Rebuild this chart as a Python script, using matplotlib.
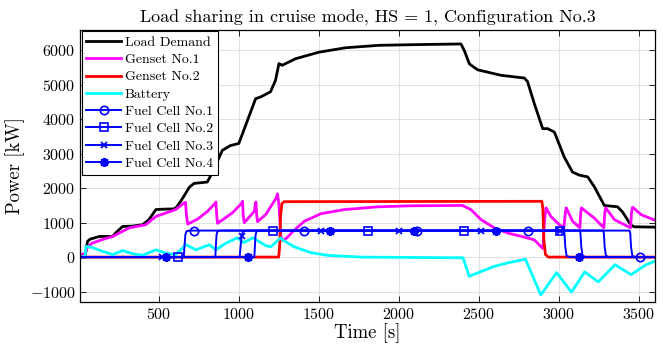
import matplotlib
matplotlib.use("Agg")
import matplotlib.pyplot as plt
from matplotlib.lines import Line2D

plt.rcParams["font.family"] = "serif"
plt.rcParams["font.serif"] = ["cmr10", "DejaVu Serif"]
plt.rcParams["mathtext.fontset"] = "cm"
plt.rcParams["axes.formatter.use_mathtext"] = True
plt.rcParams["axes.unicode_minus"] = False

# --- data (time [s], power [kW]) ---
load_t = [8, 36, 44, 54, 70, 128, 211, 229, 273, 333, 398, 436, 481, 520, 594, 612,
          648, 690, 719, 802, 833, 896, 947, 999, 1042, 1104, 1135, 1197, 1228, 1250,
          1270, 1353, 1499, 1667, 1874, 2100, 2387, 2408, 2440, 2491, 2637, 2783, 2803,
          2846, 2898, 2929, 2971, 3033, 3084, 3127, 3179, 3221, 3283, 3366, 3397, 3449,
          3471, 3600]
load_p = [0, 0, 170, 460, 520, 600, 600, 700, 890, 900, 940, 1080, 1380, 1390, 1400, 1460,
          1710, 2030, 2140, 2180, 2450, 3100, 3240, 3300, 3830, 4600, 4650, 4800, 5130, 5620,
          5570, 5760, 5950, 6080, 6150, 6170, 6190, 6000, 5610, 5440, 5280, 5200, 5100,
          4450, 3730, 3730, 3630, 2900, 2470, 2380, 2330, 2040, 1500, 1460, 1310, 930,
          880, 870]

gen1_t = [8, 40, 48, 80, 146, 211, 315, 417, 481, 604, 656, 666, 672, 680, 740, 804,
          850, 856, 861, 866, 960, 1016, 1022, 1027, 1033, 1096, 1103, 1106, 1111, 1116,
          1168, 1230, 1241, 1250, 1262, 1272, 1300, 1335, 1408, 1512, 1658, 1867, 2075, 2397,
          2449, 2512, 2595, 2679, 2783, 2846, 2888, 2900, 2910, 2919, 2950, 3000, 3030,
          3040, 3045, 3085, 3130, 3136, 3140, 3221, 3280, 3286, 3292, 3346, 3447, 3453,
          3460, 3513, 3600]
gen1_p = [60, 110, 250, 400, 510, 600, 850, 940, 1180, 1380, 1570, 1590, 1200, 960, 1100, 1330,
          1560, 1600, 1200, 980, 1290, 1560, 1620, 1200, 1000, 1330, 1560, 1600, 1200, 1030,
          1240, 1700, 1840, 1500, 600, 480, 560, 735, 1040, 1260, 1380, 1460, 1490, 1500,
          1380, 1090, 850, 700, 580, 500, 300, 250, 1100, 1430, 1175, 950, 850,
          1300, 1430, 1040, 850, 1300, 1430, 1130, 850, 1300, 1430, 1088, 850, 1300,
          1450, 1233, 1070]

gen2_t = [8, 1248, 1254, 1260, 1268, 1282, 2893, 2899, 2905, 2915, 2932, 3600]
gen2_p = [0, 0, 300, 1200, 1550, 1610, 1620, 1400, 500, 80, 0, 0]

bat_t = [8, 38, 44, 83, 146, 211, 273, 333, 398, 481, 541, 604, 669, 731, 815, 856,
         917, 990, 1030, 1086, 1168, 1200, 1250, 1260, 1272, 1345, 1449, 1553, 1761, 2387,
         2400, 2439, 2512, 2595, 2679, 2790, 2886, 2985, 3078, 3160, 3245, 3350, 3450, 3545,
         3600]
bat_p = [0, 20, 310, 280, 170, 70, 190, 100, 50, 210, 120, 70, 360, 210, 360, 210,
         400, 560, 420, 560, 330, 300, 520, 560, 500, 300, 130, 50, 0, -20,
         -20, -560, -420, -270, -170, -60, -1100, -450, -1020, -430, -720, -220, -510, -220,
         -120]

fc1_t = [8, 655, 660, 665, 672, 690, 3440, 3445, 3450, 3458, 3475, 3600]
fc1_p = [0, 0, 350, 650, 750, 770, 770, 700, 300, 40, 0, 0]
fc2_t = [8, 852, 856, 860, 866, 885, 3275, 3280, 3285, 3293, 3310, 3600]
fc2_p = [0, 0, 350, 650, 750, 770, 770, 700, 300, 40, 0, 0]
fc3_t = [8, 1004, 1010, 1017, 1025, 1045, 3129, 3134, 3139, 3147, 3165, 3600]
fc3_p = [0, 0, 300, 620, 740, 770, 770, 700, 300, 40, 0, 0]
fc4_t = [8, 1096, 1100, 1104, 1110, 1130, 3029, 3034, 3039, 3047, 3065, 3600]
fc4_p = [0, 0, 350, 650, 750, 770, 770, 700, 300, 40, 0, 0]

# marker positions on the fuel cell curves
fc1_mt = [720, 1408, 2110, 2808, 3506]
fc1_mp = [770, 770, 770, 770, 0]
fc2_mt = [617, 1214, 1808, 2408, 3008]
fc2_mp = [0, 770, 770, 770, 770]
fc3_mt = [521, 1017, 1512, 2002, 2512, 3008]
fc3_mp = [0, 620, 770, 770, 770, 770]
fc4_mt = [546, 1058, 1570, 2096, 2605, 3127]
fc4_mp = [0, 0, 770, 770, 770, 0]

labels = ["Load Demand", "Genset No.1", "Genset No.2", "Battery",
          "Fuel Cell No.1", "Fuel Cell No.2", "Fuel Cell No.3", "Fuel Cell No.4"]

fig = plt.figure(figsize=(6.63, 3.51), dpi=100)
ax = fig.add_axes([0.121, 0.140, 0.867, 0.775])

lw_main = 2.0
ax.plot(load_t, load_p, color="k", lw=lw_main)
ax.plot(gen1_t, gen1_p, color="#ff00ff", lw=lw_main)
ax.plot(gen2_t, gen2_p, color="#ff0000", lw=lw_main)
ax.plot(bat_t, bat_p, color="#00ffff", lw=lw_main)

blue = "#0000ff"
fc_specs = [
    (fc1_t, fc1_p, fc1_mt, fc1_mp, dict(marker="o", ms=6, mfc="none", mew=1.2)),
    (fc2_t, fc2_p, fc2_mt, fc2_mp, dict(marker="s", ms=5.5, mfc="none", mew=1.2)),
    (fc3_t, fc3_p, fc3_mt, fc3_mp, dict(marker="x", ms=4, mew=1.3)),
    (fc4_t, fc4_p, fc4_mt, fc4_mp, dict(marker=(8, 2, 0), ms=6.5, mew=1.5)),
]
for t, p, mt, mp, mk in fc_specs:
    ax.plot(t, p, color=blue, lw=1.4)
    ax.plot(mt, mp, ls="none", color=blue, **mk)

handles = [
    Line2D([], [], color="k", lw=lw_main),
    Line2D([], [], color="#ff00ff", lw=lw_main),
    Line2D([], [], color="#ff0000", lw=lw_main),
    Line2D([], [], color="#00ffff", lw=lw_main),
]
for _, _, _, _, mk in fc_specs:
    handles.append(Line2D([], [], color=blue, lw=1.4, **mk))

leg = ax.legend(handles, labels, loc="upper left", fontsize=10, frameon=True,
                fancybox=False, framealpha=1, edgecolor="k", borderpad=0.35,
                labelspacing=0.33, handlelength=2.5, handletextpad=0.25,
                borderaxespad=0.1)
leg.get_frame().set_linewidth(0.8)

ax.set_xlim(8, 3600)
ax.set_ylim(-1300, 6600)
ax.set_xticks([500, 1000, 1500, 2000, 2500, 3000, 3500])
ax.set_yticks([-1000, 0, 1000, 2000, 3000, 4000, 5000, 6000])
ax.grid(True, color="#dcdcdc", lw=0.6)
ax.set_axisbelow(True)
ax.tick_params(direction="in", top=True, right=True, length=4, width=0.6, labelsize=11.5)
for s in ax.spines.values():
    s.set_linewidth(0.9)

ax.set_title("Load sharing in cruise mode, HS = 1, Configuration No.3", fontsize=13, pad=5)
ax.set_xlabel("Time [s]", fontsize=13.5, labelpad=1)
ax.set_ylabel("Power [kW]", fontsize=13.5, labelpad=3)

fig.savefig("out.png", dpi=100)
